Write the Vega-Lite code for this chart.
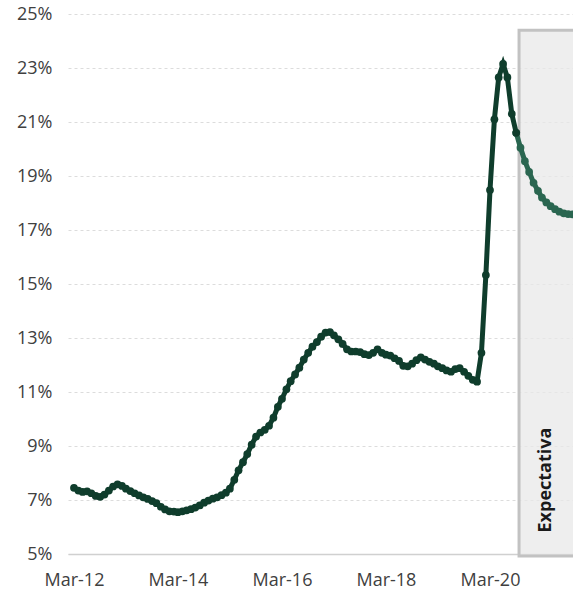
{
  "$schema": "https://vega.github.io/schema/vega-lite/v6.json",
  "width": 505,
  "height": 540,
  "autosize": "none",
  "padding": {"left": 68, "top": 14, "right": 0, "bottom": 40},
  "background": "white",
  "config": {
    "view": {"stroke": null},
    "font": "Open Sans",
    "axis": {"labelFont": "Open Sans", "labelFontSize": 18, "labelColor": "#404040"}
  },
  "datasets": {
    "actual": [
      {"date": "2012-03-01", "v": 7.45}, {"date": "2012-04-01", "v": 7.35}, {"date": "2012-05-01", "v": 7.30}, {"date": "2012-06-01", "v": 7.32},
      {"date": "2012-07-01", "v": 7.25}, {"date": "2012-08-01", "v": 7.15}, {"date": "2012-09-01", "v": 7.12}, {"date": "2012-10-01", "v": 7.20},
      {"date": "2012-11-01", "v": 7.35}, {"date": "2012-12-01", "v": 7.50}, {"date": "2013-01-01", "v": 7.58}, {"date": "2013-02-01", "v": 7.52},
      {"date": "2013-03-01", "v": 7.42}, {"date": "2013-04-01", "v": 7.33}, {"date": "2013-05-01", "v": 7.25}, {"date": "2013-06-01", "v": 7.17},
      {"date": "2013-07-01", "v": 7.10}, {"date": "2013-08-01", "v": 7.04}, {"date": "2013-09-01", "v": 6.96}, {"date": "2013-10-01", "v": 6.88},
      {"date": "2013-11-01", "v": 6.75}, {"date": "2013-12-01", "v": 6.65}, {"date": "2014-01-01", "v": 6.58}, {"date": "2014-02-01", "v": 6.57},
      {"date": "2014-03-01", "v": 6.55}, {"date": "2014-04-01", "v": 6.58}, {"date": "2014-05-01", "v": 6.62}, {"date": "2014-06-01", "v": 6.66},
      {"date": "2014-07-01", "v": 6.72}, {"date": "2014-08-01", "v": 6.80}, {"date": "2014-09-01", "v": 6.90}, {"date": "2014-10-01", "v": 6.98},
      {"date": "2014-11-01", "v": 7.05}, {"date": "2014-12-01", "v": 7.10}, {"date": "2015-01-01", "v": 7.18}, {"date": "2015-02-01", "v": 7.27},
      {"date": "2015-03-01", "v": 7.42}, {"date": "2015-04-01", "v": 7.75}, {"date": "2015-05-01", "v": 8.10}, {"date": "2015-06-01", "v": 8.40},
      {"date": "2015-07-01", "v": 8.70}, {"date": "2015-08-01", "v": 9.05}, {"date": "2015-09-01", "v": 9.35}, {"date": "2015-10-01", "v": 9.50},
      {"date": "2015-11-01", "v": 9.60}, {"date": "2015-12-01", "v": 9.75}, {"date": "2016-01-01", "v": 10.05}, {"date": "2016-02-01", "v": 10.45},
      {"date": "2016-03-01", "v": 10.75}, {"date": "2016-04-01", "v": 11.10}, {"date": "2016-05-01", "v": 11.40}, {"date": "2016-06-01", "v": 11.65},
      {"date": "2016-07-01", "v": 11.90}, {"date": "2016-08-01", "v": 12.20}, {"date": "2016-09-01", "v": 12.45}, {"date": "2016-10-01", "v": 12.68},
      {"date": "2016-11-01", "v": 12.85}, {"date": "2016-12-01", "v": 13.05}, {"date": "2017-01-01", "v": 13.20}, {"date": "2017-02-01", "v": 13.22},
      {"date": "2017-03-01", "v": 13.10}, {"date": "2017-04-01", "v": 12.95}, {"date": "2017-05-01", "v": 12.78}, {"date": "2017-06-01", "v": 12.58},
      {"date": "2017-07-01", "v": 12.50}, {"date": "2017-08-01", "v": 12.50}, {"date": "2017-09-01", "v": 12.48}, {"date": "2017-10-01", "v": 12.40},
      {"date": "2017-11-01", "v": 12.37}, {"date": "2017-12-01", "v": 12.45}, {"date": "2018-01-01", "v": 12.58}, {"date": "2018-02-01", "v": 12.45},
      {"date": "2018-03-01", "v": 12.38}, {"date": "2018-04-01", "v": 12.35}, {"date": "2018-05-01", "v": 12.25}, {"date": "2018-06-01", "v": 12.15},
      {"date": "2018-07-01", "v": 11.97}, {"date": "2018-08-01", "v": 11.95}, {"date": "2018-09-01", "v": 12.05}, {"date": "2018-10-01", "v": 12.18},
      {"date": "2018-11-01", "v": 12.28}, {"date": "2018-12-01", "v": 12.20}, {"date": "2019-01-01", "v": 12.12}, {"date": "2019-02-01", "v": 12.05},
      {"date": "2019-03-01", "v": 11.95}, {"date": "2019-04-01", "v": 11.88}, {"date": "2019-05-01", "v": 11.80}, {"date": "2019-06-01", "v": 11.75},
      {"date": "2019-07-01", "v": 11.85}, {"date": "2019-08-01", "v": 11.88}, {"date": "2019-09-01", "v": 11.75}, {"date": "2019-10-01", "v": 11.60},
      {"date": "2019-11-01", "v": 11.45}, {"date": "2019-12-01", "v": 11.38}, {"date": "2020-01-01", "v": 12.45}, {"date": "2020-02-01", "v": 15.33},
      {"date": "2020-03-01", "v": 18.48}, {"date": "2020-04-01", "v": 21.10}, {"date": "2020-05-01", "v": 22.65}, {"date": "2020-06-01", "v": 23.15},
      {"date": "2020-07-01", "v": 22.65}, {"date": "2020-08-01", "v": 21.30}, {"date": "2020-09-01", "v": 20.60}
    ],
    "expect": [
      {"date": "2020-09-01", "v": 20.60}, {"date": "2020-10-01", "v": 20.05}, {"date": "2020-11-01", "v": 19.55}, {"date": "2020-12-01", "v": 19.15},
      {"date": "2021-01-01", "v": 18.75}, {"date": "2021-02-01", "v": 18.45}, {"date": "2021-03-01", "v": 18.20}, {"date": "2021-04-01", "v": 18.02},
      {"date": "2021-05-01", "v": 17.88}, {"date": "2021-06-01", "v": 17.77}, {"date": "2021-07-01", "v": 17.68}, {"date": "2021-08-01", "v": 17.62},
      {"date": "2021-09-01", "v": 17.59}, {"date": "2021-10-01", "v": 17.58}, {"date": "2021-11-01", "v": 17.58}
    ],
    "box": [
      {"start": "2020-09-21", "end": "2022-06-01", "top": 24.4, "bottom": 4.93, "label": "Expectativa", "lx": "2021-03-29", "ly": 7.74}
    ]
  },
  "encoding": {
    "x": {
      "field": "date", "type": "temporal",
      "scale": {"type": "utc", "domain": [{"year": 2012, "month": 1, "date": 19, "utc": true}, {"year": 2021, "month": 10, "date": 5, "utc": true}]},
      "axis": {
        "title": null,
        "labelExpr": "utcFormat(datum.value, '%b-%y')",
        "values": [
          {"year": 2012, "month": 3, "date": 1, "utc": true},
          {"year": 2014, "month": 3, "date": 1, "utc": true},
          {"year": 2016, "month": 3, "date": 1, "utc": true},
          {"year": 2018, "month": 3, "date": 1, "utc": true},
          {"year": 2020, "month": 3, "date": 1, "utc": true}
        ],
        "ticks": false, "grid": false, "domain": true, "domainColor": "#d0d0d0", "domainWidth": 1.5,
        "labelPadding": 17, "labelAngle": 0
      }
    },
    "y": {
      "field": "v", "type": "quantitative",
      "scale": {"domain": [5, 25], "nice": false, "zero": false},
      "axis": {
        "title": null, "values": [5, 7, 9, 11, 13, 15, 17, 19, 21, 23, 25],
        "labelExpr": "datum.value + '%'", "ticks": false, "domain": false,
        "grid": true, "gridColor": "#dcdcdc", "gridDash": [3, 3], "gridWidth": 1,
        "labelPadding": 16
      }
    }
  },
  "layer": [
    {
      "data": {"name": "box"},
      "mark": {"type": "rect", "fill": "#e8e8e8", "fillOpacity": 0.75, "stroke": "#c2c2c2", "strokeWidth": 3},
      "encoding": {
        "x": {"field": "start", "type": "temporal"},
        "x2": {"field": "end"},
        "y": {"field": "top", "type": "quantitative"},
        "y2": {"field": "bottom"}
      }
    },
    {
      "data": {"name": "expect"},
      "mark": {"type": "line", "color": "#2a6650", "strokeWidth": 5, "point": {"filled": true, "size": 60, "color": "#2a6650"}}
    },
    {
      "data": {"name": "actual"},
      "mark": {"type": "line", "color": "#0f3d2c", "strokeWidth": 5, "point": {"filled": true, "size": 60, "color": "#0f3d2c"}}
    },
    {
      "data": {"name": "box"},
      "mark": {"type": "text", "angle": 270, "fontWeight": "bold", "fontSize": 18, "font": "Open Sans", "color": "#1a1a1a", "align": "center", "baseline": "middle"},
      "encoding": {
        "x": {"field": "lx", "type": "temporal"},
        "y": {"field": "ly", "type": "quantitative"},
        "text": {"field": "label"}
      }
    }
  ]
}
